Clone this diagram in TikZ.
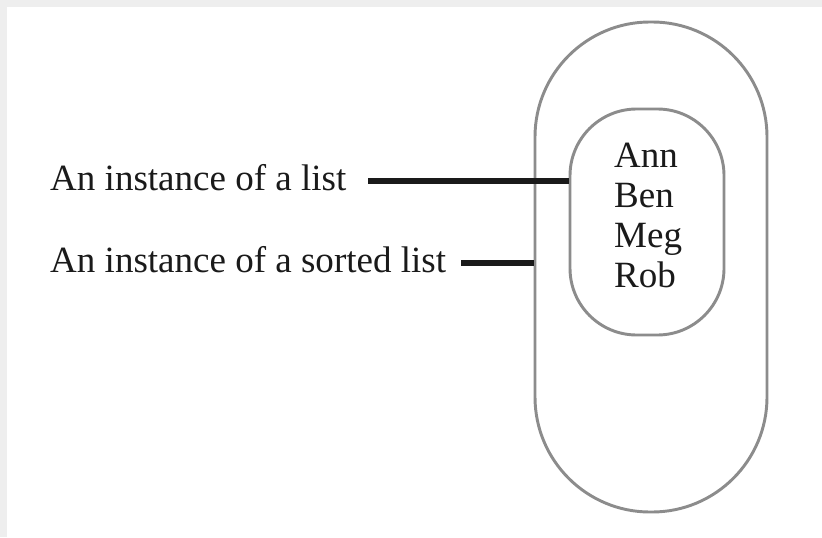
\documentclass[tikz,border=0pt]{standalone}
\usepackage{fontspec}
\setmainfont{Liberation Serif}
\definecolor{cframe}{HTML}{EEEEEE}
\definecolor{cshape}{HTML}{8C8C8C}
\definecolor{cink}{HTML}{1A1A1A}

\begin{document}
\begin{tikzpicture}[x=0.03cm, y=-0.03cm,
    every node/.style={font=\fontsize{31.6}{34}\selectfont, inner sep=0pt, text=cink},
    bag/.style={draw=cshape, line width=2.5pt},
    lead/.style={cink, line width=4.4pt}]
  \useasboundingbox (0,0) rectangle (822,537);
  \fill[cframe] (0,0) rectangle (822,537);
  \fill[white] (7,7) rectangle (822,537);
  % the two lists, one inside the other
  \node[bag, minimum width=6.96cm, minimum height=14.7cm, rounded corners=3.45cm] (sorted) at (651,267) {};
  \node[bag, minimum width=4.62cm, minimum height=6.78cm, rounded corners=2cm] (list) at (647,222) {};
  \foreach \n [count=\i] in {Ann,Ben,Meg,Rob}
    \node[anchor=base west] (name\i) at (614,127+40*\i) {\n};
  % labels
  \node[anchor=base west] (lbl1) at (50,190) {An instance of a list};
  \node[anchor=base west] (lbl2) at (50,272) {An instance of a sorted list};
  \coordinate (t1) at (368,181);
  \coordinate (t2) at (461,263);
  \draw[lead] (t1) -- (t1 -| list.west);
  \draw[lead] (t2) -- (t2 -| sorted.west);
\end{tikzpicture}
\end{document}
